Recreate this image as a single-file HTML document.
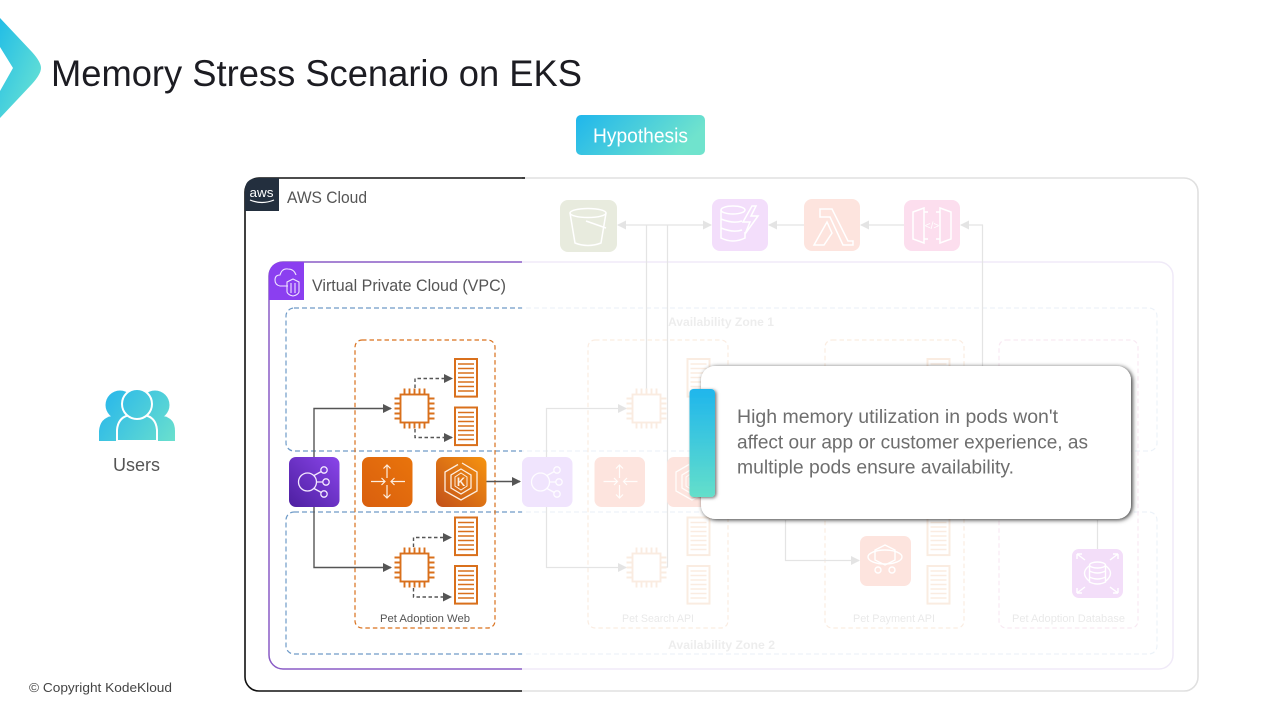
<!DOCTYPE html>
<html lang="en">
<head>
<meta charset="utf-8">
<title>Memory Stress Scenario on EKS</title>
<style>
html,body{margin:0;padding:0;background:#fff;width:1280px;height:720px;overflow:hidden}
svg{display:block;font-family:"Liberation Sans",sans-serif}
</style>
</head>
<body>
<svg width="1280" height="720" viewBox="0 0 1280 720" xmlns="http://www.w3.org/2000/svg">
<defs>
  <linearGradient id="kkh" x1="0" y1="0" x2="1" y2="0.3"><stop offset="0" stop-color="#1fb6ec"/><stop offset="1" stop-color="#70e3cd"/></linearGradient>
  <linearGradient id="kkv" x1="0" y1="0" x2="0" y2="1"><stop offset="0" stop-color="#1fb6ec"/><stop offset="1" stop-color="#64dfca"/></linearGradient>
  <linearGradient id="logo" x1="0" y1="0" x2="1" y2="1"><stop offset="0" stop-color="#22bde6"/><stop offset="1" stop-color="#70e6d2"/></linearGradient>
  <linearGradient id="usr" gradientUnits="userSpaceOnUse" x1="100" y1="390" x2="175" y2="442"><stop offset="0" stop-color="#25b5ec"/><stop offset="1" stop-color="#6be0cd"/></linearGradient>
  <linearGradient id="pur" x1="0" y1="1" x2="1" y2="0"><stop offset="0" stop-color="#4d1fa0"/><stop offset="1" stop-color="#8a45ea"/></linearGradient>
  <linearGradient id="org" x1="0" y1="1" x2="1" y2="0"><stop offset="0" stop-color="#d95f0e"/><stop offset="1" stop-color="#e9740c"/></linearGradient>
  <linearGradient id="eks" x1="0" y1="1" x2="1" y2="0"><stop offset="0" stop-color="#c2501a"/><stop offset="1" stop-color="#f7940f"/></linearGradient>
  <filter id="cs" x="-10%" y="-20%" width="120%" height="140%"><feDropShadow dx="1.500" dy="1" stdDeviation="2.300" flood-color="#000" flood-opacity=".8"/></filter>
  <filter id="ts" x="-40%" y="-10%" width="180%" height="120%"><feDropShadow dx="1.500" dy="1" stdDeviation="1.600" flood-color="#000" flood-opacity=".55"/></filter>
  <marker id="ah" markerWidth="9" markerHeight="9" refX="8" refY="4.500" orient="auto" markerUnits="userSpaceOnUse"><path d="M0 0L9 4.500L0 9Z" fill="#555"/></marker>
  <marker id="ag" markerWidth="9" markerHeight="9" refX="8" refY="4.500" orient="auto" markerUnits="userSpaceOnUse"><path d="M0 0L9 4.500L0 9Z" fill="#333"/></marker>

  <g id="chip" fill="none" stroke="#d9701c" stroke-width="1.900">
    <rect x="-14" y="-14" width="28" height="28" fill="#fff"/>
    <path d="M-10-14v-6M-5-14v-6M0-14v-6M5-14v-6M10-14v-6M-10 14v6M-5 14v6M0 14v6M5 14v6M10 14v6M-14-10h-6M-14-5h-6M-14 0h-6M-14 5h-6M-14 10h-6M14-10h6M14-5h6M14 0h6M14 5h6M14 10h6"/>
  </g>
  <g id="doc" fill="none" stroke="#d9701c">
    <rect x="1" y="1" width="22" height="37.600" fill="#fff" stroke-width="2"/>
    <path d="M4 6h16M4 10.500h16M4 15h16M4 19.500h16M4 24h16M4 28.500h16M4 33h16" stroke-width="1.500"/>
  </g>
  <g id="lbg" fill="none" stroke="#f3e8ff" stroke-width="1.300">
    <circle cx="18.500" cy="25" r="9"/><circle cx="35" cy="13" r="3.200"/><circle cx="37" cy="25" r="3.200"/><circle cx="35" cy="37" r="3.200"/>
    <path d="M25 18.500L32.300 14.500M27.500 25H33.800M25 31.500L32.300 35.500"/>
  </g>
  <g id="rtg" fill="none" stroke="#fdeee0" stroke-width="1.200">
    <path d="M25 8V21M21.500 11.500L25 8L28.500 11.500M25 41V28M21.500 37.500L25 41L28.500 37.500M9 24.500H23M19.500 21L23 24.500L19.500 28M43 24.500H29M32.500 21L29 24.500L32.500 28"/>
  </g>
  <g id="ekg">
    <g fill="none" stroke="#fdeee0" stroke-width="1.300">
      <path d="M26 6L41 15V34L25 43L9 34V15L22 7.500"/>
      <path d="M25 12L35 18V31L25 37L15 31V18Z"/>
      <path d="M25 16L31 20V29L25 33L19 29V20Z" stroke-width="1"/>
    </g>
    <text x="25" y="29" font-size="11.500" font-weight="bold" fill="#fdeee0" text-anchor="middle">K</text>
  </g>
</defs>

<rect width="1280" height="720" fill="#fff"/>

<!-- logo -->
<path d="M0 18L32 52Q41 62 41 68Q41 74 32 84L0 118V91L13 68L0 47Z" fill="url(#logo)"/>
<text x="51" y="86" font-size="37" fill="#1c1c22" textLength="531" lengthAdjust="spacingAndGlyphs">Memory Stress Scenario on EKS</text>

<!-- hypothesis -->
<rect x="576" y="115" width="129" height="40" rx="5" fill="url(#kkh)"/>
<text x="593" y="142.500" font-size="20" fill="#fff" textLength="95" lengthAdjust="spacingAndGlyphs">Hypothesis</text>

<!-- users -->
<g fill="url(#usr)">
  <circle cx="120" cy="405" r="14.500"/>
  <circle cx="155" cy="405" r="14.500"/>
  <path d="M99 441V431Q100 418 112 416H163Q175 418 175 431V441Z"/>
  <path d="M117 441V430Q118 417 130 415H144Q156 417 157 430V441Z" stroke="#fff" stroke-width="2"/>
  <circle cx="137" cy="404" r="15" stroke="#fff" stroke-width="2"/>
</g>
<text x="113" y="471" font-size="18" fill="#555" textLength="47" lengthAdjust="spacingAndGlyphs">Users</text>

<text x="29" y="692" font-size="13" fill="#444" textLength="143" lengthAdjust="spacingAndGlyphs">© Copyright KodeKloud</text>

<!-- containers -->
<rect x="245" y="178" width="953" height="513" rx="14" fill="#fff" stroke="#111" stroke-width="1.600"/>
<path d="M245 211V190Q245 178 259 178H279V211Z" fill="#232f3e"/>
<text x="249.500" y="197" font-size="13" fill="#fff" textLength="24" lengthAdjust="spacingAndGlyphs">aws</text>
<path d="M250 200Q262 205 274 200" fill="none" stroke="#fff" stroke-width="1.200"/>
<text x="287" y="203" font-size="17" fill="#555" textLength="80" lengthAdjust="spacingAndGlyphs">AWS Cloud</text>

<rect x="269" y="262" width="904" height="407" rx="14" fill="#fff" stroke="#8a5cc6" stroke-width="1.500"/>
<path d="M269 300V276Q269 262 283 262H304V300Z" fill="#8b3ff0"/>
<g fill="none" stroke="#f0e4ff" stroke-width="1.100">
  <path d="M288 286H280Q275 285 275 280Q275 275 280 275Q282 268 288 269Q294 269 296 275"/>
  <path d="M293 279L299 282V292Q298 295 293 296Q288 295 287 292V282Z"/>
  <path d="M291 283V293M295 283V293"/>
</g>
<text x="312" y="291" font-size="17" fill="#555" textLength="194" lengthAdjust="spacingAndGlyphs">Virtual Private Cloud (VPC)</text>

<!-- availability zones -->
<rect x="286" y="308" width="871" height="143" rx="8" fill="none" stroke="#6f9bc8" stroke-width="1.200" stroke-dasharray="5 3"/>
<rect x="286" y="512" width="871" height="142" rx="8" fill="none" stroke="#6f9bc8" stroke-width="1.200" stroke-dasharray="5 3"/>
<text x="668" y="326" font-size="11.500" font-weight="bold" fill="#777" textLength="106" lengthAdjust="spacingAndGlyphs">Availability Zone 1</text>
<text x="668" y="649" font-size="11.500" font-weight="bold" fill="#777" textLength="107" lengthAdjust="spacingAndGlyphs">Availability Zone 2</text>

<!-- service boxes -->
<g fill="none" stroke="#d9701c" stroke-width="1.200" stroke-dasharray="4.500 3">
  <rect x="355" y="340" width="140" height="288" rx="7"/>
  <rect x="588" y="340" width="140" height="288" rx="7"/>
  <rect x="825" y="340" width="139" height="288" rx="7"/>
</g>
<rect x="999" y="340" width="139" height="288" rx="7" fill="none" stroke="#c9569c" stroke-width="1.200" stroke-dasharray="4.500 3"/>
<g fill="#555" font-size="11">
  <text x="380" y="622" textLength="90" lengthAdjust="spacingAndGlyphs">Pet Adoption Web</text>
  <text x="622" y="622" textLength="72" lengthAdjust="spacingAndGlyphs">Pet Search API</text>
  <text x="853" y="622" textLength="82" lengthAdjust="spacingAndGlyphs">Pet Payment API</text>
  <text x="1012" y="622" textLength="113" lengthAdjust="spacingAndGlyphs">Pet Adoption Database</text>
</g>

<!-- top services -->
<rect x="560" y="200" width="57" height="52" rx="8" fill="#4e6500"/>
<g fill="none" stroke="#fff" stroke-width="1.500">
  <ellipse cx="588" cy="213" rx="18" ry="4.500"/>
  <path d="M570 213L575 243Q588 248 601 243L606 213"/>
  <path d="M586 221L606 228"/>
</g>
<rect x="712" y="199" width="56" height="52" rx="8" fill="#a300e0"/>
<g fill="none" stroke="#fff" stroke-width="1.500">
  <ellipse cx="733" cy="210" rx="12" ry="4"/>
  <path d="M721 210V238Q733 244 745 238V232M721 219Q733 224 742 221M721 228Q733 233 742 230"/>
  <path d="M752 206L743 222H750L745 234L758 216H751L756 206Z"/>
</g>
<rect x="804" y="199" width="56" height="52" rx="8" fill="#f03000"/>
<path d="M820 209H832L848 241H853V245H843L830 217H820ZM827 222L832 233L824 245H814Z" fill="none" stroke="#fff" stroke-width="1.500"/>
<rect x="904" y="200" width="56" height="51" rx="8" fill="#e8007c"/>
<g fill="none" stroke="#fff" stroke-width="1.500">
  <path d="M913 212L924 208V243L913 239ZM951 212L940 208V243L951 239ZM924 212H928M936 212H940M924 239H928M936 239H940"/>
</g>
<text x="932" y="229" font-size="10" fill="#fff" text-anchor="middle">&lt;/&gt;</text>

<!-- connectors top -->
<g fill="none" stroke="#333" stroke-width="1.200">
  <path d="M646.500 225V392M667.500 225V567H658"/>
  <path d="M804 225H769" marker-end="url(#ag)"/>
  <path d="M904 225H861" marker-end="url(#ag)"/>
  <path d="M982.500 366V225H961" marker-end="url(#ag)"/>
  <path d="M646 225H618" marker-end="url(#ag)"/>
  <path d="M646 225H711" marker-end="url(#ag)"/>
  <path d="M785.500 520V560.500H859" marker-end="url(#ag)"/>
  <path d="M1097.500 520V549"/>
</g>

<!-- lower services -->
<rect x="860" y="536" width="51" height="50" rx="7" fill="#f03000"/>
<g fill="none" stroke="#fff" stroke-width="1.400">
  <path d="M885 545L895 550V560L885 565L875 560V550Z"/>
  <ellipse cx="885" cy="557" rx="17" ry="7"/>
  <circle cx="878" cy="570" r="3"/><circle cx="892" cy="570" r="3"/>
</g>
<rect x="1072" y="549" width="51" height="49" rx="7" fill="#a000d0"/>
<g fill="none" stroke="#fff" stroke-width="1.400">
  <ellipse cx="1097.500" cy="565" rx="8" ry="3"/>
  <path d="M1089.500 565V582Q1097.500 586 1105.500 582V565M1089.500 571Q1097.500 575 1105.500 571M1089.500 577Q1097.500 581 1105.500 577"/>
  <path d="M1089 566Q1080 573 1089 581M1106 566Q1115 573 1106 581"/>
  <path d="M1077 554L1085 560M1077 554V559M1077 554H1082M1118 554L1110 560M1118 554V559M1118 554H1113M1077 593L1085 587M1077 593V588M1077 593H1082M1118 593L1110 587M1118 593V588M1118 593H1113"/>
</g>

<!-- Web group -->
<g fill="none" stroke="#555" stroke-width="1.400">
  <path d="M314 457V408.500H391" marker-end="url(#ah)"/>
  <path d="M314 507V567.500H391" marker-end="url(#ah)"/>
  <path d="M486 481.500H520" marker-end="url(#ah)"/>
  <g stroke-dasharray="3.500 2.500">
    <path d="M415 388V378.500H452" marker-end="url(#ah)"/>
    <path d="M415 429V437.500H452" marker-end="url(#ah)"/>
    <path d="M413.500 547V537.500H451" marker-end="url(#ah)"/>
    <path d="M413.500 588V597H451" marker-end="url(#ah)"/>
  </g>
</g>
<use href="#chip" x="414.500" y="408.500"/>
<use href="#chip" x="414.500" y="567.500"/>
<use href="#doc" x="454" y="358"/>
<use href="#doc" x="454" y="406.500"/>
<use href="#doc" x="454" y="516.500"/>
<use href="#doc" x="454" y="565"/>
<rect x="289" y="457" width="50.500" height="50" rx="7" fill="url(#pur)"/><use href="#lbg" x="289" y="457"/>
<rect x="362" y="457" width="50.500" height="50" rx="7" fill="url(#org)"/><use href="#rtg" x="362" y="457"/>
<rect x="436" y="457" width="50.500" height="50" rx="7" fill="url(#eks)"/><use href="#ekg" x="436" y="457"/>

<!-- faded search group -->
<g fill="none" stroke="#333" stroke-width="1.200">
  <path d="M546.500 457V408.500H626" marker-end="url(#ag)"/>
  <path d="M546.500 507V567.500H626" marker-end="url(#ag)"/>
</g>
<use href="#chip" x="646.500" y="408.500"/>
<use href="#chip" x="646.500" y="567.500"/>
<use href="#doc" x="686.500" y="358"/>
<use href="#doc" x="686.500" y="516.500"/>
<use href="#doc" x="686.500" y="565"/>
<use href="#doc" x="926.500" y="358"/>
<use href="#doc" x="926.500" y="516.500"/>
<use href="#doc" x="926.500" y="565"/>
<rect x="522" y="457" width="50.500" height="50" rx="7" fill="#8a30f0"/><use href="#lbg" x="522" y="457"/>
<rect x="594.500" y="457" width="50.500" height="50" rx="7" fill="#f03000"/><use href="#rtg" x="594.500" y="457"/>
<rect x="667" y="457" width="50.500" height="50" rx="7" fill="#f03000"/><use href="#ekg" x="667" y="457"/>

<!-- fade overlay -->
<rect x="522" y="170" width="758" height="530" fill="#fff" fill-opacity=".87"/>
<path d="M522 178H525" stroke="#111" stroke-width="1.600"/>

<!-- callout -->
<rect x="701" y="366" width="430" height="153" rx="14" fill="#fff" filter="url(#cs)"/>
<rect x="689.500" y="389" width="25.500" height="108" rx="4" fill="url(#kkv)" filter="url(#ts)"/>
<g font-size="19" fill="#6e6e6e">
  <text x="737" y="423" textLength="321" lengthAdjust="spacingAndGlyphs">High memory utilization in pods won't</text>
  <text x="737" y="448.500" textLength="351" lengthAdjust="spacingAndGlyphs">affect our app or customer experience, as</text>
  <text x="737" y="473.500" textLength="277" lengthAdjust="spacingAndGlyphs">multiple pods ensure availability.</text>
</g>
</svg>
</body>
</html>
